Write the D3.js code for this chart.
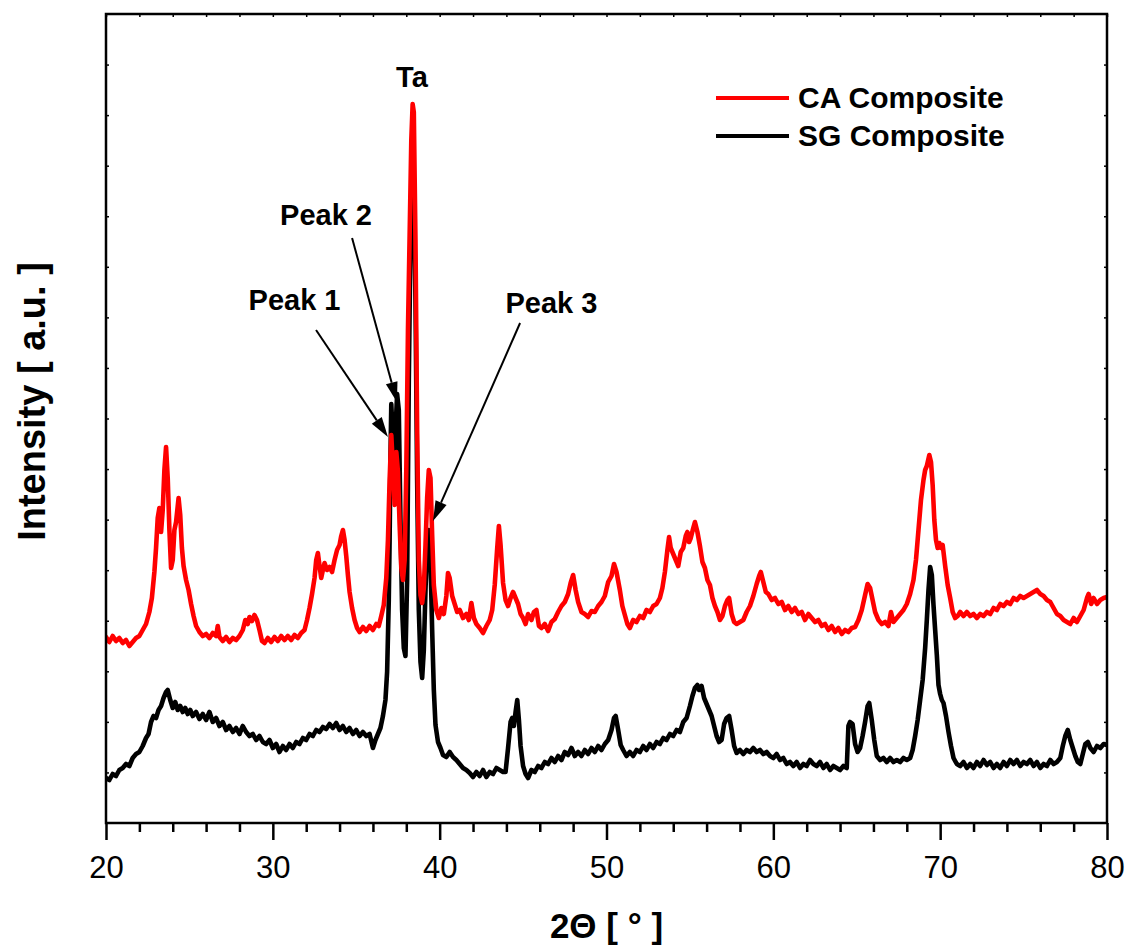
<!DOCTYPE html>
<html>
<head>
<meta charset="utf-8">
<script src="https://cdn.jsdelivr.net/npm/d3@7"></script>
<style>
  html, body { margin: 0; padding: 0; background: #fff; }
  svg { display: block; }
  text { font-family: "Liberation Sans", Arial, sans-serif; fill: #000; }
</style>
</head>
<body>
<svg id="chart" width="1127" height="950"></svg>
<script>
// XRD patterns: [2θ (deg), intensity (a.u.)]
const caComposite = [
  [20.0,186],[20.2,181],[20.4,187],[20.6,182],[20.8,185],[21.0,180],[21.2,183],[21.4,177],[21.6,181],[21.8,185],
  [22.0,187],[22.2,193],[22.4,199],[22.6,211],[22.75,225],[22.9,251],[23.0,275],[23.1,305],[23.2,315],[23.3,291],
  [23.4,313],[23.5,353],[23.6,376],[23.7,345],[23.8,293],[23.9,255],[24.0,263],[24.1,293],[24.2,301],[24.35,325],
  [24.45,308],[24.55,275],[24.65,257],[24.8,243],[24.95,233],[25.1,219],[25.25,207],[25.4,197],[25.6,191],[25.8,187],
  [26.0,189],[26.2,185],[26.4,190],[26.6,187],[26.7,197],[26.8,186],[27.0,182],[27.2,186],[27.4,181],[27.6,185],
  [27.8,183],[28.0,187],[28.2,193],[28.35,203],[28.5,199],[28.6,206],[28.75,202],[28.9,208],[29.05,203],[29.2,193],
  [29.35,182],[29.5,180],[29.7,185],[29.9,181],[30.1,186],[30.3,182],[30.5,187],[30.7,183],[30.9,187],[31.1,183],
  [31.3,188],[31.5,185],[31.7,190],[31.9,193],[32.05,203],[32.2,215],[32.35,229],[32.5,245],[32.6,263],[32.7,270],
  [32.8,257],[32.9,245],[33.0,253],[33.1,260],[33.25,253],[33.4,256],[33.55,251],[33.7,263],[33.85,273],[34.0,278],
  [34.1,287],[34.2,293],[34.3,283],[34.4,267],[34.5,248],[34.6,231],[34.75,215],[34.9,203],[35.05,195],[35.2,191],
  [35.4,196],[35.6,192],[35.8,197],[36.0,193],[36.2,199],[36.35,197],[36.5,207],[36.65,218],[36.8,245],[36.9,283],
  [37.0,343],[37.1,388],[37.2,355],[37.3,318],[37.4,371],[37.5,351],[37.6,298],[37.7,255],[37.8,243],[37.9,263],
  [38.0,353],[38.1,493],[38.2,588],[38.3,683],[38.38,719],[38.45,711],[38.55,583],[38.65,393],[38.75,263],[38.85,228],
  [38.95,220],[39.05,235],[39.15,278],[39.25,325],[39.35,353],[39.45,345],[39.55,288],[39.65,238],[39.8,213],[39.95,205],
  [40.1,215],[40.25,209],[40.4,227],[40.5,250],[40.6,245],[40.75,227],[40.9,219],[41.05,211],[41.2,213],[41.4,205],
  [41.6,209],[41.75,203],[41.9,220],[42.05,205],[42.2,199],[42.4,195],[42.6,190],[42.8,197],[43.0,203],[43.15,213],
  [43.3,238],[43.45,275],[43.55,297],[43.65,278],[43.8,240],[43.95,223],[44.1,217],[44.25,225],[44.4,231],[44.55,225],
  [44.7,219],[44.85,209],[45.0,205],[45.15,199],[45.3,209],[45.5,203],[45.65,211],[45.8,213],[45.95,197],[46.1,195],
  [46.3,199],[46.5,192],[46.7,201],[46.9,204],[47.1,211],[47.3,217],[47.5,221],[47.7,229],[47.85,240],[48.0,248],
  [48.15,233],[48.3,221],[48.5,211],[48.7,209],[48.9,206],[49.1,212],[49.3,211],[49.5,217],[49.7,221],[49.9,227],
  [50.1,241],[50.3,247],[50.45,259],[50.6,251],[50.8,233],[50.95,217],[51.1,208],[51.25,199],[51.4,195],[51.6,203],
  [51.8,201],[52.0,207],[52.2,205],[52.4,213],[52.6,211],[52.8,217],[53.0,219],[53.2,225],[53.35,235],[53.5,251],
  [53.65,273],[53.75,286],[53.85,275],[54.0,269],[54.15,263],[54.3,257],[54.45,271],[54.6,275],[54.75,287],[54.85,291],
  [54.95,281],[55.05,285],[55.2,295],[55.3,301],[55.45,291],[55.6,277],[55.75,261],[55.9,255],[56.05,243],[56.2,238],
  [56.35,225],[56.5,217],[56.65,211],[56.8,203],[56.95,207],[57.1,217],[57.25,223],[57.35,225],[57.5,209],[57.65,201],
  [57.8,199],[58.0,201],[58.2,203],[58.4,211],[58.6,217],[58.8,227],[59.0,239],[59.15,247],[59.25,251],[59.4,241],
  [59.55,231],[59.7,229],[59.9,223],[60.1,225],[60.3,219],[60.5,221],[60.7,213],[60.9,217],[61.1,211],[61.3,215],
  [61.5,209],[61.7,211],[61.9,203],[62.1,209],[62.3,205],[62.5,201],[62.7,203],[62.9,197],[63.1,199],[63.3,193],
  [63.5,197],[63.7,191],[63.9,195],[64.1,189],[64.3,193],[64.5,191],[64.7,195],[64.9,196],[65.1,203],[65.3,213],
  [65.5,228],[65.65,239],[65.8,235],[65.95,223],[66.1,211],[66.3,203],[66.5,199],[66.7,201],[66.9,197],[67.05,211],
  [67.2,201],[67.4,205],[67.6,209],[67.8,213],[68.0,219],[68.2,229],[68.4,243],[68.55,263],[68.7,293],[68.85,323],
  [69.0,343],[69.1,353],[69.2,357],[69.35,368],[69.45,361],[69.55,338],[69.65,303],[69.75,283],[69.85,275],[69.95,280],
  [70.05,275],[70.15,278],[70.3,257],[70.45,238],[70.6,225],[70.75,211],[70.9,205],[71.05,207],[71.2,211],[71.4,207],
  [71.6,211],[71.8,207],[72.0,209],[72.2,205],[72.4,209],[72.6,207],[72.8,211],[73.0,209],[73.2,215],[73.4,213],
  [73.6,219],[73.8,217],[74.0,221],[74.2,219],[74.4,225],[74.6,223],[74.8,227],[75.0,225],[75.2,227],[75.4,229],
  [75.6,231],[75.8,233],[76.0,229],[76.2,227],[76.4,223],[76.6,221],[76.8,215],[77.0,209],[77.2,207],[77.4,203],
  [77.6,201],[77.8,199],[78.0,205],[78.2,201],[78.4,207],[78.6,213],[78.8,225],[78.9,229],[79.05,219],[79.2,225],
  [79.4,219],[79.6,223],[79.8,225],[80.0,226]
];

const sgComposite = [
  [20.0,45],[20.2,43],[20.4,49],[20.6,47],[20.8,53],[21.0,55],[21.2,59],[21.4,57],[21.6,65],[21.8,69],
  [22.0,71],[22.2,77],[22.4,85],[22.55,89],[22.7,101],[22.85,107],[23.0,105],[23.15,113],[23.3,117],[23.45,125],
  [23.6,131],[23.7,133],[23.85,123],[24.0,115],[24.15,121],[24.3,113],[24.45,117],[24.6,111],[24.75,115],[24.9,109],
  [25.05,113],[25.2,107],[25.4,111],[25.6,104],[25.8,109],[26.0,103],[26.2,111],[26.4,101],[26.6,105],[26.8,97],
  [27.0,101],[27.2,93],[27.4,97],[27.6,91],[27.8,95],[28.0,89],[28.2,97],[28.4,91],[28.6,87],[28.8,89],
  [29.0,83],[29.2,87],[29.4,81],[29.6,79],[29.8,83],[30.0,75],[30.2,79],[30.4,71],[30.6,77],[30.8,73],
  [31.0,79],[31.2,75],[31.4,81],[31.6,79],[31.8,85],[32.0,83],[32.2,89],[32.4,87],[32.6,93],[32.8,91],
  [33.0,96],[33.2,94],[33.4,99],[33.6,95],[33.8,100],[34.0,93],[34.2,97],[34.4,91],[34.6,95],[34.8,89],
  [35.0,93],[35.2,87],[35.4,91],[35.6,87],[35.8,89],[36.0,75],[36.15,83],[36.3,89],[36.45,95],[36.6,107],
  [36.75,123],[36.85,151],[36.95,223],[37.0,283],[37.05,363],[37.1,419],[37.2,383],[37.3,348],[37.38,403],[37.45,429],
  [37.55,413],[37.65,303],[37.75,213],[37.85,175],[37.95,167],[38.05,243],[38.15,443],[38.25,583],[38.35,628],[38.45,633],
  [38.55,523],[38.65,343],[38.75,213],[38.85,161],[38.95,145],[39.05,173],[39.15,233],[39.25,278],[39.35,293],[39.45,263],
  [39.55,193],[39.65,133],[39.75,98],[39.9,81],[40.05,75],[40.2,68],[40.4,66],[40.6,71],[40.8,66],[41.0,63],
  [41.2,59],[41.4,55],[41.6,53],[41.8,50],[42.0,46],[42.2,51],[42.4,47],[42.6,53],[42.8,46],[43.0,51],
  [43.2,49],[43.4,55],[43.6,53],[43.8,51],[43.95,51],[44.1,75],[44.25,101],[44.35,105],[44.45,97],[44.55,111],
  [44.65,123],[44.75,103],[44.85,77],[45.0,57],[45.15,49],[45.3,45],[45.5,53],[45.7,51],[45.9,57],[46.1,55],
  [46.3,61],[46.5,59],[46.7,65],[46.9,61],[47.1,67],[47.3,63],[47.5,71],[47.7,68],[47.9,75],[48.1,67],
  [48.3,71],[48.5,67],[48.7,73],[48.9,69],[49.1,75],[49.3,71],[49.5,77],[49.7,73],[49.9,79],[50.1,83],
  [50.3,93],[50.45,105],[50.55,107],[50.7,93],[50.85,78],[51.0,73],[51.2,67],[51.4,71],[51.6,67],[51.8,73],
  [52.0,71],[52.2,77],[52.4,73],[52.6,79],[52.8,75],[53.0,81],[53.2,79],[53.4,85],[53.6,83],[53.8,89],
  [54.0,87],[54.2,93],[54.4,91],[54.6,101],[54.8,105],[55.0,117],[55.15,127],[55.3,135],[55.45,138],[55.55,133],
  [55.7,137],[55.85,125],[56.0,119],[56.15,113],[56.3,107],[56.45,97],[56.6,87],[56.75,81],[56.9,83],[57.05,99],
  [57.2,105],[57.35,107],[57.5,93],[57.65,77],[57.8,70],[58.0,73],[58.2,69],[58.4,73],[58.6,71],[58.8,75],
  [59.0,71],[59.2,73],[59.4,69],[59.6,71],[59.8,67],[60.0,65],[60.2,69],[60.4,63],[60.6,65],[60.8,59],
  [61.0,61],[61.2,57],[61.4,61],[61.6,55],[61.8,59],[62.0,57],[62.2,63],[62.4,59],[62.6,57],[62.8,61],
  [63.0,55],[63.2,59],[63.4,53],[63.6,57],[63.8,55],[64.0,53],[64.2,57],[64.4,55],[64.5,97],[64.6,101],
  [64.75,99],[64.9,79],[65.05,71],[65.2,75],[65.35,87],[65.5,101],[65.65,117],[65.75,120],[65.9,103],[66.05,83],
  [66.2,67],[66.4,63],[66.6,65],[66.8,61],[67.0,65],[67.2,61],[67.4,63],[67.6,61],[67.8,65],[68.0,63],
  [68.2,65],[68.35,73],[68.5,87],[68.65,103],[68.8,123],[68.95,143],[69.1,175],[69.2,203],[69.3,233],[69.4,256],
  [69.5,248],[69.6,218],[69.7,193],[69.8,168],[69.9,138],[70.0,129],[70.1,123],[70.2,120],[70.35,107],[70.5,91],
  [70.65,77],[70.8,65],[71.0,59],[71.2,57],[71.4,61],[71.6,55],[71.8,59],[72.0,55],[72.2,61],[72.4,57],
  [72.6,63],[72.8,58],[73.0,61],[73.2,55],[73.4,59],[73.6,55],[73.8,61],[74.0,57],[74.2,63],[74.4,59],
  [74.6,63],[74.8,57],[75.0,61],[75.2,59],[75.4,63],[75.6,57],[75.8,61],[76.0,55],[76.2,59],[76.4,57],
  [76.6,63],[76.8,59],[77.0,61],[77.2,65],[77.35,77],[77.5,87],[77.65,93],[77.8,83],[77.95,75],[78.1,67],
  [78.25,61],[78.4,59],[78.55,69],[78.7,79],[78.85,81],[79.0,75],[79.2,71],[79.4,77],[79.6,75],[79.8,79],
  [80.0,78]
];

const seriesNames = ["CA Composite", "SG Composite"];
const seriesColors = ["#ff0000", "#000000"];

const xMajorTicks = [20, 30, 40, 50, 60, 70, 80];
const xMinorTicks = [22, 24, 26, 28, 32, 34, 36, 38, 42, 44, 46, 48, 52, 54, 56, 58, 62, 64, 66, 68, 72, 74, 76, 78];

// Peak annotations: label, label anchor, arrow tail, arrow tip (data units)
const peakLabels = [
  { text: "Ta",     at: [38.34, 736] },
  { text: "Peak 2", at: [33.19, 598], from: [34.75, 585], to: [37.44, 421] },
  { text: "Peak 1", at: [31.30, 513], from: [32.59, 493], to: [36.90, 386] },
  { text: "Peak 3", at: [46.70, 510], from: [44.82, 500], to: [39.60, 302] }
];

const W = 1127, H = 950;
const plot = { left: 106, right: 1107, top: 14, bottom: 823 };

const svg = d3.select("#chart");
svg.append("rect").attr("width", W).attr("height", H).attr("fill", "#fff");

const x = d3.scaleLinear().domain([20, 80]).range([plot.left, plot.right]);
const y = d3.scaleLinear().domain([0, 809]).range([plot.bottom, plot.top]);
const yTicks = d3.range(1, 16).map(i => i * 809 / 16);

svg.append("defs").append("clipPath").attr("id", "plotClip")
  .append("rect")
  .attr("x", plot.left).attr("y", plot.top)
  .attr("width", plot.right - plot.left).attr("height", plot.bottom - plot.top);

const line = d3.line().x(d => x(d[0])).y(d => y(d[1]));

const curves = svg.append("g").attr("clip-path", "url(#plotClip)");
// SG drawn first so the CA trace sits on top
[[sgComposite, seriesColors[1]], [caComposite, seriesColors[0]]].forEach(([data, color]) => {
  curves.append("path")
    .datum(data)
    .attr("d", line)
    .attr("fill", "none")
    .attr("stroke", color)
    .attr("stroke-width", 4.6)
    .attr("stroke-linejoin", "round")
    .attr("stroke-linecap", "round");
});

// Axes
function styleAxis(g) {
  g.select(".domain").remove();
  g.selectAll(".tick line").attr("stroke", "#000").attr("stroke-width", 2.5);
}

const bottomMajor = svg.append("g")
  .attr("transform", `translate(0,${plot.bottom})`)
  .call(d3.axisBottom(x).tickValues(xMajorTicks).tickSize(17).tickPadding(16).tickFormat(d3.format("d")));
styleAxis(bottomMajor);
bottomMajor.selectAll(".tick text")
  .attr("font-size", 31)
  .attr("font-family", "'Liberation Sans', Arial, sans-serif")
  .attr("fill", "#000");

const bottomMinor = svg.append("g")
  .attr("transform", `translate(0,${plot.bottom})`)
  .call(d3.axisBottom(x).tickValues(xMinorTicks).tickSize(9).tickFormat(""));
styleAxis(bottomMinor);

const topTicks = svg.append("g")
  .attr("transform", `translate(0,${plot.top})`)
  .call(d3.axisTop(x).tickValues(xMinorTicks.concat(xMajorTicks)).tickSize(-3).tickFormat(""));
styleAxis(topTicks);
topTicks.selectAll(".tick line").attr("stroke-width", 1.5);

const leftTicks = svg.append("g")
  .attr("transform", `translate(${plot.left},0)`)
  .call(d3.axisLeft(y).tickValues(yTicks).tickSize(-3).tickFormat(""));
styleAxis(leftTicks);
leftTicks.selectAll(".tick line").attr("stroke-width", 1.5);

const rightTicks = svg.append("g")
  .attr("transform", `translate(${plot.right},0)`)
  .call(d3.axisRight(y).tickValues(yTicks).tickSize(-3).tickFormat(""));
styleAxis(rightTicks);
rightTicks.selectAll(".tick line").attr("stroke-width", 1.5);

// Frame
svg.append("rect")
  .attr("x", plot.left).attr("y", plot.top)
  .attr("width", plot.right - plot.left).attr("height", plot.bottom - plot.top)
  .attr("fill", "none").attr("stroke", "#000").attr("stroke-width", 2.5);

// Axis titles
svg.append("text")
  .attr("x", (plot.left + plot.right) / 2)
  .attr("y", 938)
  .attr("text-anchor", "middle")
  .attr("font-size", 35)
  .attr("font-weight", "bold")
  .text("2Θ [ ° ]");

svg.append("text")
  .attr("transform", `translate(45,${(plot.top + plot.bottom) / 2 - 17}) rotate(-90)`)
  .attr("text-anchor", "middle")
  .attr("font-size", 38)
  .attr("font-weight", "bold")
  .text("Intensity [ a.u. ]");

// Peak annotations
const ann = svg.append("g");
peakLabels.forEach(p => {
  ann.append("text")
    .attr("x", x(p.at[0])).attr("y", y(p.at[1]))
    .attr("text-anchor", "middle")
    .attr("font-size", 29)
    .attr("font-weight", "bold")
    .text(p.text);
  if (p.from) {
    const x1 = x(p.from[0]), y1 = y(p.from[1]);
    const x2 = x(p.to[0]), y2 = y(p.to[1]);
    const ang = Math.atan2(y2 - y1, x2 - x1);
    const headLen = 20, headHalf = 6;
    const bx = x2 - headLen * Math.cos(ang), by = y2 - headLen * Math.sin(ang);
    ann.append("line")
      .attr("x1", x1).attr("y1", y1).attr("x2", bx).attr("y2", by)
      .attr("stroke", "#000").attr("stroke-width", 2);
    const px = -Math.sin(ang) * headHalf, py = Math.cos(ang) * headHalf;
    ann.append("polygon")
      .attr("points", [[x2, y2], [bx + px, by + py], [bx - px, by - py]].map(d => d.join(",")).join(" "))
      .attr("fill", "#000");
  }
});

// Legend
const legend = svg.append("g");
seriesNames.forEach((name, i) => {
  const ly = 98 + i * 38;
  legend.append("line")
    .attr("x1", 716).attr("x2", 789).attr("y1", ly).attr("y2", ly)
    .attr("stroke", seriesColors[i]).attr("stroke-width", 4);
  legend.append("text")
    .attr("x", 798).attr("y", ly + 10)
    .attr("font-size", 30)
    .attr("font-weight", "bold")
    .text(name);
});
</script>
</body>
</html>
